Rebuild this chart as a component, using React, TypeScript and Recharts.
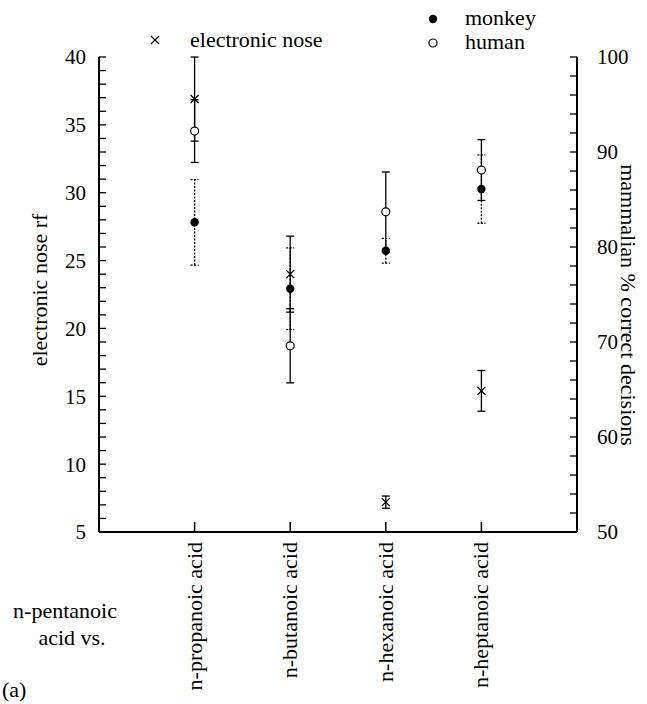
import { ComposedChart, Scatter, XAxis, YAxis, ErrorBar } from "recharts";

const categories = ["n-propanoic acid", "n-butanoic acid", "n-hexanoic acid", "n-heptanoic acid"];
const categoryPos = [1, 2, 3, 4];

// electronic nose response (left axis)
const noseRf = [36.9, 24.0, 7.2, 15.4];
const noseErr = [3.1, 2.8, 0.45, 1.5];

// mammalian % correct decisions (right axis)
const monkeyPct = [82.6, 75.6, 79.6, 86.1];
const monkeyErr = [4.5, 4.3, 1.3, 3.6];
const humanPct = [92.2, 69.6, 83.7, 88.1];
const humanErr = [3.3, 3.9, 4.2, 3.2];

const leftTicks = Array.from({ length: 36 }, (_, i) => 5 + i);
const rightTicks = Array.from({ length: 26 }, (_, i) => 50 + i * 2);

const noseData = categoryPos.map((x, i) => ({ x, y: noseRf[i], err: noseErr[i] }));
const monkeyData = categoryPos.map((x, i) => ({ x, y: monkeyPct[i], err: monkeyErr[i] }));
const humanData = categoryPos.map((x, i) => ({ x, y: humanPct[i], err: humanErr[i] }));

const FONT = '"Liberation Serif", "Times New Roman", serif';
const tickFont = { fontSize: 21, fontFamily: FONT, fill: "#000" };
const frame = { stroke: "#000", strokeWidth: 2 };
const tickStroke = { stroke: "#000", strokeWidth: 1.3 };

const Cross = ({ cx, cy }: any) => (
    <g stroke="#000" strokeWidth={1.3}>
        <line x1={cx - 4} y1={cy - 4} x2={cx + 4} y2={cy + 4} />
        <line x1={cx - 4} y1={cy + 4} x2={cx + 4} y2={cy - 4} />
    </g>
);
const Dot = ({ cx, cy }: any) => <circle cx={cx} cy={cy} r={4.2} fill="#000" />;
const Ring = ({ cx, cy }: any) => <circle cx={cx} cy={cy} r={4} fill="#fff" stroke="#000" strokeWidth={1.2} />;

const BottomTick = ({ x, y, payload }: any) => {
    const label = categories[categoryPos.indexOf(payload.value)];
    return (
        <text
            x={x + 7}
            y={y}
            transform={`rotate(-90 ${x + 7} ${y})`}
            textAnchor="end"
            style={{ fontFamily: FONT, fontSize: 22 }}
            fill="#000"
        >
            {label}
        </text>
    );
};

export default function App() {
    return (
        <div style={{ position: "absolute", left: 0, top: 0, width: 647, height: 704, background: "#fff", fontFamily: FONT }}>
            <ComposedChart width={647} height={704} data={noseData} margin={{ top: 57, right: 20, bottom: 12, left: 20 }}>
                <XAxis
                    xAxisId="top"
                    orientation="top"
                    type="number"
                    dataKey="x"
                    domain={[0, 5]}
                    ticks={[]}
                    allowDataOverflow
                    axisLine={frame}
                    tick={false}
                    tickLine={false}
                    height={0}
                />
                <XAxis
                    type="number"
                    dataKey="x"
                    domain={[0, 5]}
                    ticks={categoryPos}
                    interval={0}
                    allowDataOverflow
                    axisLine={frame}
                    tickLine={{ stroke: "#000", strokeWidth: 1.5 }}
                    tickSize={-10}
                    tickMargin={20}
                    height={160}
                    tick={<BottomTick />}
                />
                <YAxis
                    yAxisId="left"
                    type="number"
                    dataKey="y"
                    domain={[5, 40]}
                    ticks={leftTicks}
                    interval={0}
                    allowDataOverflow
                    axisLine={frame}
                    tickLine={tickStroke}
                    tickSize={-7}
                    tickMargin={20}
                    width={79}
                    tick={tickFont}
                    tickFormatter={(v: number) => (v % 5 === 0 ? String(v) : "")}
                />
                <YAxis
                    yAxisId="right"
                    orientation="right"
                    type="number"
                    dataKey="y"
                    domain={[50, 100]}
                    ticks={rightTicks}
                    interval={0}
                    allowDataOverflow
                    axisLine={frame}
                    tickLine={tickStroke}
                    tickSize={-7}
                    tickMargin={27}
                    width={50}
                    tick={tickFont}
                    tickFormatter={(v: number) => (v % 10 === 0 ? String(v) : "")}
                />
                <Scatter name="electronic nose" data={noseData} yAxisId="left" shape={<Cross />} isAnimationActive={false}>
                    <ErrorBar dataKey="err" direction="y" width={4} stroke="#000" strokeWidth={1.3} />
                </Scatter>
                <Scatter name="monkey" data={monkeyData} yAxisId="right" shape={<Dot />} isAnimationActive={false}>
                    <ErrorBar dataKey="err" direction="y" width={4} stroke="#000" strokeWidth={1.3} strokeDasharray="2 1.5" />
                </Scatter>
                <Scatter name="human" data={humanData} yAxisId="right" shape={<Ring />} isAnimationActive={false}>
                    <ErrorBar dataKey="err" direction="y" width={4} stroke="#000" strokeWidth={1.3} />
                </Scatter>
            </ComposedChart>
            <svg
                width={647}
                height={704}
                style={{ position: "absolute", left: 0, top: 0, pointerEvents: "none", fontFamily: FONT, fontSize: 22 }}
            >
                <Cross cx={155} cy={40} />
                <text x={190} y={47}>electronic nose</text>
                <Dot cx={433} cy={19} />
                <text x={465} y={25}>monkey</text>
                <Ring cx={433} cy={43} />
                <text x={465} y={49}>human</text>
                <text x={40} y={290} dy={7} textAnchor="middle" transform="rotate(-90 40 290)">
                    electronic nose rf
                </text>
                <text x={628} y={305} dy={7} textAnchor="middle" transform="rotate(90 628 305)">
                    mammalian % correct decisions
                </text>
                <text x={65} y={618} textAnchor="middle">n-pentanoic</text>
                <text x={72} y={645} textAnchor="middle">acid vs.</text>
                <text x={2} y={697}>(a)</text>
            </svg>
        </div>
    );
}
